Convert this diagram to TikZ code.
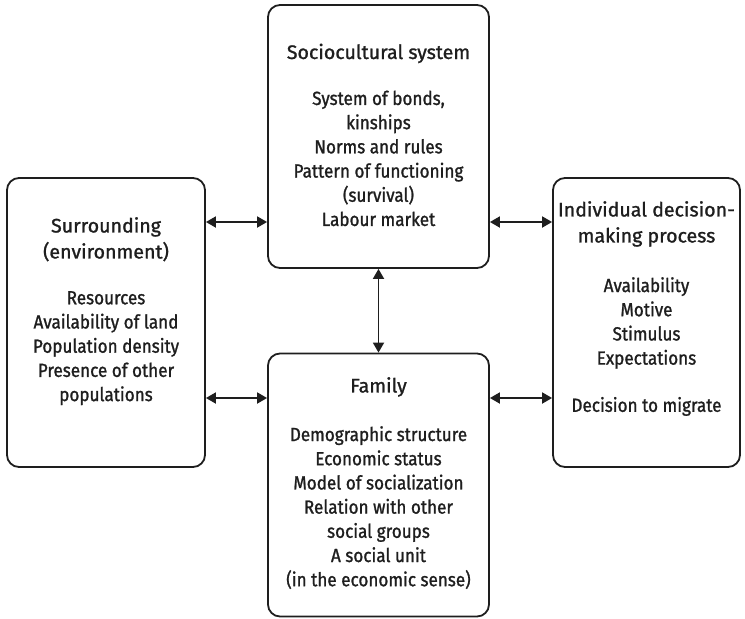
\documentclass[tikz,border=0pt]{standalone}
\usepackage{fontspec}
\setmainfont{Fira Sans}
\newfontfamily\titlefont{Fira Sans}[FakeBold=1.2]
\newfontfamily\bodyfont{Fira Sans}[FakeStretch=0.9,FakeBold=1.2]
\usetikzlibrary{arrows.meta}
\definecolor{ink}{HTML}{1E1E1E}
\tikzset{
  box/.style={draw=ink, line width=1.8pt, rounded corners=12pt, inner sep=0pt},
  ttl/.style={text=ink, align=center, font=\titlefont\fontsize{19.6}{26}\selectfont, inner sep=0pt},
  bdy/.style={text=ink, align=center, font=\bodyfont\fontsize{19}{24.2}\selectfont, inner sep=0pt},
  link/.style={draw=ink, line width=1.8pt, {Triangle[length=10pt,width=11pt]}-{Triangle[length=10pt,width=11pt]}}
}
\begin{document}
\begin{tikzpicture}[x=1pt,y=-1pt]
\useasboundingbox (0,0) rectangle (745,619);
% boxes
\node[box, minimum width=221pt, minimum height=263pt] (soc) at (378.5,136.5) {};
\node[box, minimum width=221pt, minimum height=263pt] (fam) at (378.5,485) {};
\node[box, minimum width=198pt, minimum height=289pt] (sur) at (106,322.5) {};
\node[box, minimum width=187pt, minimum height=289pt] (ind) at (646.5,322.5) {};
% texts
\node[ttl, anchor=base] (socT) at (378.5,59) {Sociocultural system};
\node[bdy, anchor=north] (socB) at (378.5,90.5) {System of bonds,\\kinships\\Norms and rules\\Pattern of functioning\\(survival)\\Labour market};
\node[ttl, anchor=north] (surT) at (106,217) {Surrounding\\(environment)};
\node[bdy, anchor=north] (surB) at (106,291) {Resources\\Availability of land\\Population density\\Presence of other\\populations};
\node[ttl, anchor=north] (indT) at (646.5,201) {Individual decision-\\making process};
\node[bdy, anchor=north] (indB) at (646.5,277) {Availability\\Motive\\Stimulus\\Expectations\\[23pt]Decision to migrate};
\node[ttl, anchor=north] (famT) at (378.5,377) {Family};
\node[bdy, anchor=north] (famB) at (378.5,426) {Demographic structure\\Economic status\\Model of socialization\\Relation with other\\social groups\\A social unit\\(in the economic sense)};
% connectors
\coordinate (a1) at (sur.east |- 0,222);
\coordinate (a2) at (soc.west |- 0,222);
\coordinate (b1) at (sur.east |- 0,398);
\coordinate (b2) at (fam.west |- 0,398);
\coordinate (c1) at (soc.east |- 0,222);
\coordinate (c2) at (ind.west |- 0,222);
\coordinate (d1) at (fam.east |- 0,398);
\coordinate (d2) at (ind.west |- 0,398);
\draw[link] (a1) -- (a2);
\draw[link] (b1) -- (b2);
\draw[link] (c1) -- (c2);
\draw[link] (d1) -- (d2);
\draw[link] (soc.south) -- (fam.north);
\end{tikzpicture}
\end{document}
